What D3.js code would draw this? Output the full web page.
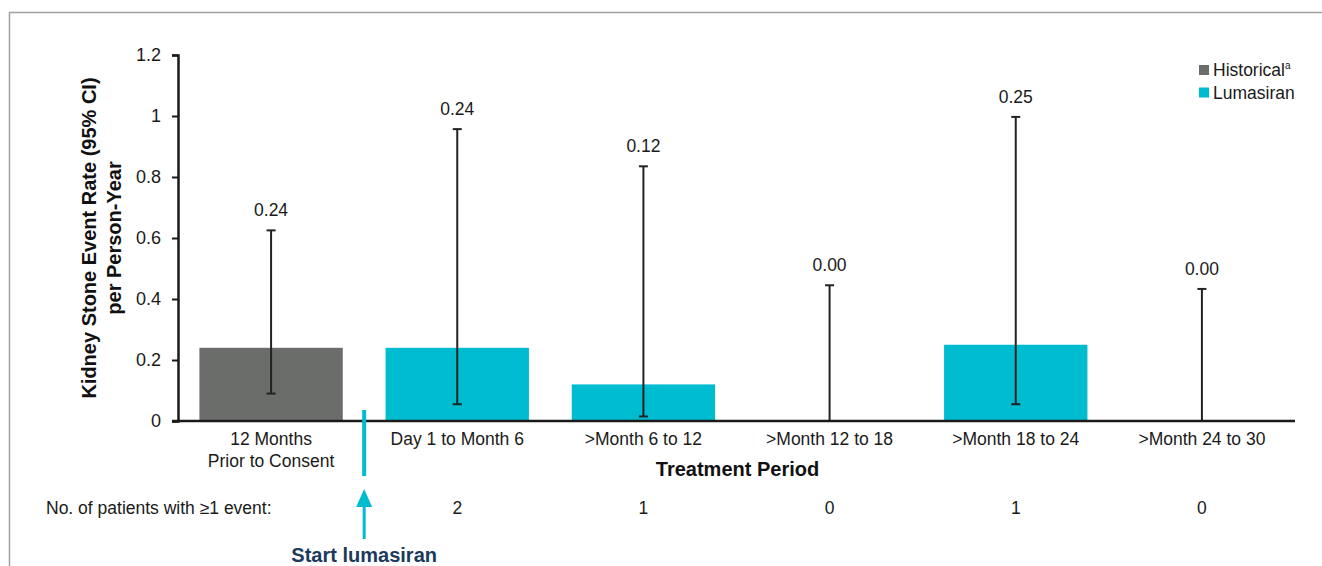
<!DOCTYPE html>
<html>
<head>
<meta charset="utf-8">
<script src="https://cdn.jsdelivr.net/npm/d3@7"></script>
<style>
  html, body { margin: 0; padding: 0; background: #fff; }
  svg { display: block; font-family: "Liberation Sans", Arial, Helvetica, sans-serif; }
</style>
</head>
<body>
<svg id="chart" width="1322" height="566"></svg>
<script>
// Treatment periods (x categories); first is the pre-treatment historical period
const categories = [
  ["12 Months", "Prior to Consent"],
  ["Day 1 to Month 6"],
  [">Month 6 to 12"],
  [">Month 12 to 18"],
  [">Month 18 to 24"],
  [">Month 24 to 30"]
];
const series = ["Historical", "Lumasiran", "Lumasiran", "Lumasiran", "Lumasiran", "Lumasiran"];
// Kidney stone event rate per person-year with 95% CI
const rates  = [0.24, 0.24, 0.12, 0.00, 0.25, 0.00];
const ciLow  = [0.09, 0.055, 0.015, 0.00, 0.055, 0.00];
const ciHigh = [0.625, 0.957, 0.835, 0.445, 0.997, 0.433];
const rateLabels = ["0.24", "0.24", "0.12", "0.00", "0.25", "0.00"];
// Number of patients with at least one event (not shown for the historical period)
const patientCounts = [null, 2, 1, 0, 1, 0];
const yTicks = [0, 0.2, 0.4, 0.6, 0.8, 1, 1.2];
const legendItems = ["Historical", "Lumasiran"];

const colors = { "Historical": "#6b6d6b", "Lumasiran": "#00bcd1" };
const ink = "#1a1a1a";

const svg = d3.select("#chart");

// Outer frame (top and left rules)
svg.append("line").attr("x1", 9).attr("x2", 1322).attr("y1", 12.5).attr("y2", 12.5)
  .attr("stroke", "#a0a0a0").attr("stroke-width", 1.5);
svg.append("line").attr("x1", 9.5).attr("x2", 9.5).attr("y1", 12).attr("y2", 566)
  .attr("stroke", "#a0a0a0").attr("stroke-width", 1.5);

const plot = { left: 178, right: 1295, top: 55, bottom: 421 };

const x = d3.scaleBand()
  .domain(d3.range(categories.length))
  .range([plot.left, plot.right])
  .paddingInner(0.23)
  .paddingOuter(0.115);

const y = d3.scaleLinear().domain([0, 1.2]).range([plot.bottom, plot.top]);

// Bars
svg.append("g").selectAll("rect")
  .data(rates)
  .join("rect")
  .attr("x", (d, i) => x(i))
  .attr("width", x.bandwidth())
  .attr("y", d => y(d))
  .attr("height", d => y(0) - y(d))
  .attr("fill", (d, i) => colors[series[i]]);

// Error bars
const eb = svg.append("g").attr("stroke", "#222").attr("stroke-width", 2);
rates.forEach((d, i) => {
  const cx = x(i) + x.bandwidth() / 2;
  eb.append("line").attr("x1", cx).attr("x2", cx).attr("y1", y(ciLow[i])).attr("y2", y(ciHigh[i]));
  eb.append("line").attr("x1", cx - 4.5).attr("x2", cx + 4.5).attr("y1", y(ciHigh[i])).attr("y2", y(ciHigh[i]));
  if (ciLow[i] > 0) {
    eb.append("line").attr("x1", cx - 4.5).attr("x2", cx + 4.5).attr("y1", y(ciLow[i])).attr("y2", y(ciLow[i]));
  }
});

// Value labels above the upper CI
svg.append("g").selectAll("text")
  .data(rateLabels)
  .join("text")
  .attr("x", (d, i) => x(i) + x.bandwidth() / 2)
  .attr("y", (d, i) => y(ciHigh[i]) - 14)
  .attr("text-anchor", "middle")
  .attr("font-size", 17.5)
  .attr("fill", ink)
  .text(d => d);

// Y axis
const yAxis = svg.append("g")
  .attr("transform", `translate(${plot.left},0)`)
  .call(d3.axisLeft(y).tickValues(yTicks).tickFormat(d3.format("~g")).tickSize(6).tickPadding(11));
yAxis.select(".domain").attr("stroke", ink).attr("stroke-width", 2.5);
yAxis.selectAll(".tick line").attr("stroke", ink).attr("stroke-width", 2);
yAxis.selectAll(".tick text").attr("font-size", 18).attr("fill", ink)
  .attr("font-family", "Liberation Sans, Arial, sans-serif");

// X axis baseline
svg.append("line")
  .attr("x1", plot.left - 6).attr("x2", plot.right)
  .attr("y1", y(0)).attr("y2", y(0))
  .attr("stroke", ink).attr("stroke-width", 2.5);

// Category labels
const catG = svg.append("g");
categories.forEach((lines, i) => {
  const t = catG.append("text")
    .attr("x", x(i) + x.bandwidth() / 2)
    .attr("y", 445)
    .attr("text-anchor", "middle")
    .attr("font-size", 17.5)
    .attr("fill", ink);
  lines.forEach((ln, k) => {
    t.append("tspan").attr("x", x(i) + x.bandwidth() / 2).attr("dy", k === 0 ? 0 : 22).text(ln);
  });
});

// Axis titles
svg.append("text")
  .attr("x", (plot.left + plot.right) / 2 + 1)
  .attr("y", 476)
  .attr("text-anchor", "middle")
  .attr("font-size", 20)
  .attr("font-weight", "bold")
  .attr("fill", "#111")
  .text("Treatment Period");

const yTitle = svg.append("text")
  .attr("transform", "translate(96,238) rotate(-90)")
  .attr("text-anchor", "middle")
  .attr("font-size", 20)
  .attr("font-weight", "bold")
  .attr("fill", "#111");
yTitle.append("tspan").attr("x", 0).attr("dy", 0).text("Kidney Stone Event Rate (95% CI)");
yTitle.append("tspan").attr("x", 0).attr("dy", 25).text("per Person-Year");

// Patient count row
svg.append("text")
  .attr("x", 46).attr("y", 514)
  .attr("font-size", 17.5).attr("fill", ink)
  .text("No. of patients with \u22651 event:");
svg.append("g").selectAll("text")
  .data(patientCounts.map((c, i) => ({ c, i })).filter(d => d.c !== null))
  .join("text")
  .attr("x", d => x(d.i) + x.bandwidth() / 2)
  .attr("y", 514)
  .attr("text-anchor", "middle")
  .attr("font-size", 17.5).attr("fill", ink)
  .text(d => d.c);

// Treatment start marker between historical and first lumasiran period
const startX = (x(0) + x.bandwidth() + x(1)) / 2;
const cyan = colors["Lumasiran"];
svg.append("line").attr("x1", startX).attr("x2", startX).attr("y1", 410).attr("y2", 476)
  .attr("stroke", cyan).attr("stroke-width", 4);
svg.append("line").attr("x1", startX).attr("x2", startX).attr("y1", 504).attr("y2", 539)
  .attr("stroke", cyan).attr("stroke-width", 3);
svg.append("path")
  .attr("d", `M${startX},489 L${startX - 8},507 L${startX + 8},507 Z`)
  .attr("fill", cyan);
svg.append("text")
  .attr("x", startX).attr("y", 562)
  .attr("text-anchor", "middle")
  .attr("font-size", 20)
  .attr("font-weight", "bold")
  .attr("fill", "#1b3a5c")
  .text("Start lumasiran");

// Legend
const legend = svg.append("g").attr("transform", "translate(1199,65)");
legendItems.forEach((name, i) => {
  const g = legend.append("g").attr("transform", `translate(0,${i * 22.5})`);
  g.append("rect").attr("width", 10).attr("height", 10).attr("fill", colors[name]);
  const t = g.append("text").attr("x", 14).attr("y", 11).attr("font-size", 17.5).attr("fill", ink).text(name);
  if (name === "Historical") {
    t.append("tspan").attr("font-size", 10).attr("dy", -7).text("a");
  }
});
</script>
</body>
</html>
